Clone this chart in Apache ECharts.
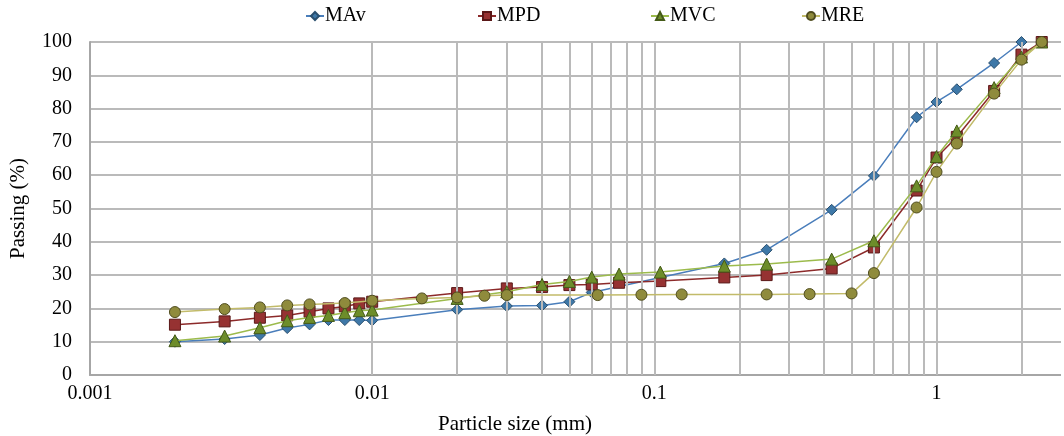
<!DOCTYPE html>
<html>
<head>
<meta charset="utf-8">
<script src="https://cdn.jsdelivr.net/npm/echarts@6/dist/echarts.min.js"></script>
<style>html,body{margin:0;padding:0;background:#fff;}#c{width:1064px;height:436px;}</style>
</head>
<body>
<div id="c"></div>
<script>
const seriesNames = ['MAv', 'MPD', 'MVC', 'MRE'];

const sizeMAv = [0.002,0.003,0.004,0.005,0.006,0.007,0.008,0.009,0.01,0.02,0.03,0.04,0.05,0.06,0.177,0.25,0.425,0.6,0.85,1.0,1.18,1.6,2.0];
const passMAv = [10.0,10.8,12.0,14.1,15.2,16.5,16.5,16.5,16.4,19.6,20.7,20.9,22.0,24.8,33.5,37.6,49.6,59.8,77.4,82.0,85.8,93.7,100];

const sizeMPD = [0.002,0.003,0.004,0.005,0.006,0.007,0.008,0.009,0.01,0.02,0.03,0.04,0.05,0.06,0.075,0.105,0.177,0.25,0.425,0.6,0.85,1.0,1.18,1.6,2.0,2.36];
const passMPD = [15.1,16.1,17.2,17.9,19.0,20.0,20.6,21.5,22.0,24.6,26.0,26.4,27.0,27.2,27.7,28.2,29.3,30.0,32.0,38.3,55.4,65.3,71.5,85.3,96.2,100];

const sizeMVC = [0.002,0.003,0.004,0.005,0.006,0.007,0.008,0.009,0.01,0.02,0.03,0.04,0.05,0.06,0.075,0.105,0.177,0.25,0.425,0.6,0.85,1.0,1.18,1.6,2.0,2.36];
const passMVC = [10.3,11.7,14.2,16.3,17.3,17.9,18.7,19.3,19.5,23.0,25.0,27.2,28.1,29.4,30.3,30.9,32.7,33.3,34.8,40.3,56.8,65.6,73.3,86.3,95.5,100];

const sizeMRE = [0.002,0.003,0.004,0.005,0.006,0.008,0.01,0.015,0.02,0.025,0.03,0.063,0.09,0.125,0.25,0.355,0.5,0.6,0.85,1.0,1.18,1.6,2.0,2.36];
const passMRE = [18.9,19.8,20.3,20.9,21.2,21.6,22.3,23.0,23.3,23.8,24.0,24.0,24.1,24.2,24.2,24.3,24.5,30.6,50.3,61.0,69.5,84.5,94.7,100];

const verticalGridValues = [0.002,0.003,0.004,0.005,0.006,0.007,0.008,0.009,0.01,
  0.02,0.03,0.04,0.05,0.06,0.07,0.08,0.09,0.1,
  0.2,0.3,0.4,0.5,0.6,0.7,0.8,0.9,1,
  2];

const xMin = 0.001;
const xMax = 2.83;   // the reference plot is cut off at the right edge of the image
const yTicks = [0,10,20,30,40,50,60,70,80,90,100];

const xTitle = 'Particle size (mm)';
const yTitle = 'Passing (%)';

const pairs = (xs, ys) => xs.map((x, i) => [x, ys[i]]);

const FONT = 'Liberation Serif';
const styles = {
  MAv: {line: '#4a7ebb', fill: '#3e78a8', border: '#2a4f6e', symbol: 'diamond', size: 11},
  MPD: {line: '#8c2a2a', fill: '#963232', border: '#5a1818', symbol: 'rect', size: 11},
  MVC: {line: '#9cbb4c', fill: '#6d8d2a', border: '#445a18', symbol: 'triangle', size: 12},
  MRE: {line: '#c2bb6a', fill: '#8f8b3c', border: '#4f4c1e', symbol: 'circle', size: 11}
};
const dataMap = {
  MAv: pairs(sizeMAv, passMAv),
  MPD: pairs(sizeMPD, passMPD),
  MVC: pairs(sizeMVC, passMVC),
  MRE: pairs(sizeMRE, passMRE)
};

const chart = echarts.init(document.getElementById('c'), null, {renderer: 'canvas'});

const legendLefts = [300, 472, 645, 796];

const series = seriesNames.map((n, i) => ({
  name: n,
  type: 'line',
  data: dataMap[n],
  z: 3 + i,
  symbol: styles[n].symbol,
  symbolSize: styles[n].size,
  showAllSymbol: true,
  lineStyle: {color: styles[n].line, width: 1.5},
  itemStyle: {color: styles[n].fill, borderColor: styles[n].border, borderWidth: 1},
  animation: false
}));

series.unshift({
  type: 'line',
  data: [],
  z: 1,
  silent: true,
  animation: false,
  markLine: {
    silent: true,
    animation: false,
    symbol: ['none', 'none'],
    label: {show: false},
    lineStyle: {color: '#bababa', width: 2, type: 'solid'},
    data: verticalGridValues.map(v => ({xAxis: v}))
  }
});

chart.setOption({
  backgroundColor: '#ffffff',
  animation: false,
  textStyle: {fontFamily: FONT},
  legend: seriesNames.map((n, i) => ({
    data: [n],
    left: legendLefts[i],
    top: 1,
    itemWidth: 18,
    itemHeight: 10,
    itemGap: 0,
    textStyle: {fontFamily: FONT, fontSize: 20, color: '#000', padding: [0, 0, 0, -4]}
  })),
  grid: {left: 87, right: 0, top: 42, bottom: 61, containLabel: false},
  xAxis: {
    type: 'log',
    logBase: 10,
    min: xMin,
    max: xMax,
    axisLine: {show: true, lineStyle: {color: '#a6a6a6', width: 2}},
    axisTick: {show: false},
    axisLabel: {
      fontFamily: FONT, fontSize: 20, color: '#000', margin: 9,
      showMaxLabel: false,
      formatter: v => String(v)
    },
    splitLine: {show: false}
  },
  yAxis: {
    type: 'value',
    min: yTicks[0],
    max: yTicks[yTicks.length - 1],
    interval: 10,
    name: yTitle,
    nameLocation: 'middle',
    nameGap: 61,
    nameTextStyle: {fontFamily: FONT, fontSize: 21, color: '#000'},
    axisLine: {show: true, lineStyle: {color: '#a6a6a6', width: 2}},
    axisTick: {show: false},
    axisLabel: {fontFamily: FONT, fontSize: 20, color: '#000', margin: 18},
    splitLine: {show: true, lineStyle: {color: '#bababa', width: 2}}
  },
  graphic: [{
    type: 'text',
    x: 515,
    y: 424,
    style: {text: xTitle, font: '21px "Liberation Serif"', fill: '#000', textAlign: 'center', textVerticalAlign: 'middle'}
  }, {
    // hides the boundary line at the clipped right edge (the reference is cut off there)
    type: 'rect',
    right: 0,
    top: 36,
    z: 100,
    shape: {width: 3, height: 345},
    style: {fill: '#ffffff'},
    silent: true
  }],
  series: series
});
</script>
</body>
</html>
